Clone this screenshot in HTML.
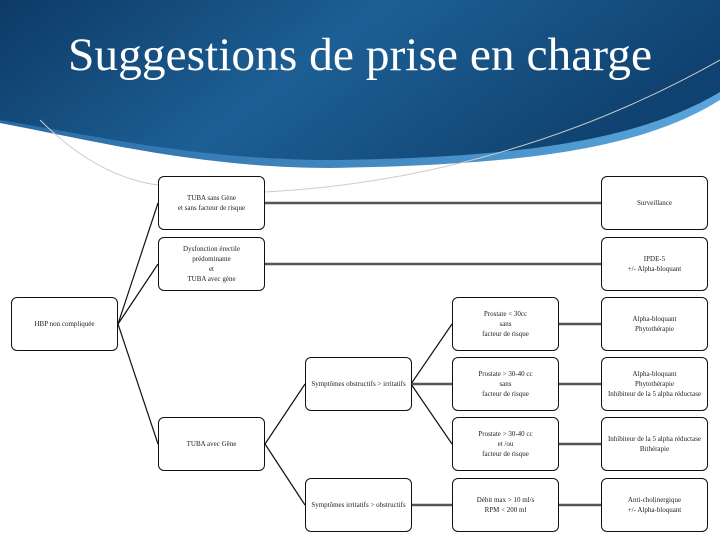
<!DOCTYPE html>
<html><head><meta charset="utf-8"><style>
body{margin:0;width:720px;height:540px;overflow:hidden;background:#fff;font-family:"Liberation Serif",serif;}
.b{position:absolute;width:105px;height:52px;border:1.3px solid #111;border-radius:6px;background:#fff;display:flex;align-items:center;justify-content:center;text-align:center;font-size:7px;line-height:10px;color:#222;}
</style></head><body>
<svg width="720" height="540" style="position:absolute;left:0;top:0">
<defs>
<linearGradient id="g" x1="0" y1="0" x2="1" y2="0.3">
<stop offset="0" stop-color="#0d3a66"/><stop offset="0.5" stop-color="#1d5f94"/><stop offset="1" stop-color="#0f4270"/></linearGradient>
<linearGradient id="g2" x1="0" y1="0" x2="1" y2="0"><stop offset="0" stop-color="#2a6ca6"/><stop offset="1" stop-color="#5aa5dc"/></linearGradient>
</defs>
<path d="M0,0 H720 V100 C640,150 520,165 330,168 C200,168 90,140 0,123 Z" fill="url(#g2)"/>
<path d="M0,0 H720 V92 C640,140 520,158 330,160 C200,160 90,135 0,120 Z" fill="url(#g)"/>
<path d="M40,120 C80,160 120,180 158,185" stroke="#ccc" fill="none" stroke-width="1"/>
<path d="M265,192 C400,185 560,150 720,60" stroke="#ccc" fill="none" stroke-width="1"/>
<text x="360" y="70" text-anchor="middle" fill="#fff" font-family="Liberation Serif" font-size="47" textLength="584" lengthAdjust="spacingAndGlyphs">Suggestions de prise en charge</text>
<g stroke="#111" stroke-width="1.2" fill="none">
<path d="M118,324 L158,203 M118,324 L158,264 M118,324 L158,444 M265,444 L305,384 M265,444 L305,505 M411,384 L452,324 M411,384 L452,444"/>
</g>
<g stroke="#555" stroke-width="2.5">
<path d="M265,203 H601 M265,264 H601 M411,384 H452 M411,505 H452 M558,324 H601 M558,384 H601 M558,444 H601 M558,505 H601"/>
</g>
</svg>
<div class="b" style="left:11px;top:297px">HBP non compliquée</div>
<div class="b" style="left:158px;top:176px">TUBA sans Gène<br>et sans facteur de risque</div>
<div class="b" style="left:158px;top:237px">Dysfonction érectile<br>prédominante<br>et<br>TUBA avec gène</div>
<div class="b" style="left:158px;top:417px">TUBA avec Gêne</div>
<div class="b" style="left:305px;top:357px">Symptômes obstructifs &gt; irritatifs</div>
<div class="b" style="left:305px;top:478px">Symptômes irritatifs &gt; obstructifs</div>
<div class="b" style="left:452px;top:297px">Prostate &lt; 30cc<br>sans<br>facteur de risque</div>
<div class="b" style="left:452px;top:357px">Prostate &gt; 30-40 cc<br>sans<br>facteur de risque</div>
<div class="b" style="left:452px;top:417px">Prostate &gt; 30-40 cc<br>et /ou<br>facteur de risque</div>
<div class="b" style="left:452px;top:478px">Débit max &gt; 10 ml/s<br>RPM &lt; 200 ml</div>
<div class="b" style="left:601px;top:176px">Surveillance</div>
<div class="b" style="left:601px;top:237px">IPDE-5<br>+/- Alpha-bloquant</div>
<div class="b" style="left:601px;top:297px">Alpha-bloquant<br>Phytothérapie</div>
<div class="b" style="left:601px;top:357px">Alpha-bloquant<br>Phytothérapie<br>Inhibiteur de la 5 alpha réductase</div>
<div class="b" style="left:601px;top:417px">Inhibiteur de la 5 alpha réductase<br>Bithérapie</div>
<div class="b" style="left:601px;top:478px">Anti-cholinergique<br>+/- Alpha-bloquant</div>
</body></html>
